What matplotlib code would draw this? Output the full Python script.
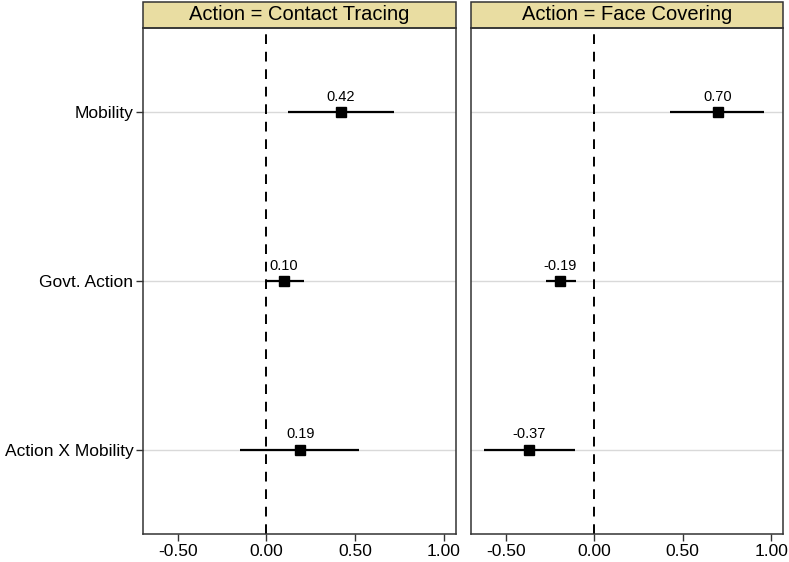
import matplotlib.pyplot as plt
from matplotlib.patches import Rectangle

plt.rcParams['font.family'] = ['Liberation Sans', 'DejaVu Sans']

# data
terms = ['Mobility', 'Govt. Action', 'Action X Mobility']
panels = ['Action = Contact Tracing', 'Action = Face Covering']
estimates = {
    'Action = Contact Tracing': [0.42, 0.10, 0.19],
    'Action = Face Covering': [0.70, -0.19, -0.37],
}
ci_low = {
    'Action = Contact Tracing': [0.12, 0.00, -0.15],
    'Action = Face Covering': [0.43, -0.27, -0.62],
}
ci_high = {
    'Action = Contact Tracing': [0.72, 0.21, 0.52],
    'Action = Face Covering': [0.96, -0.10, -0.11],
}
xticks = [-0.5, 0.0, 0.5, 1.0]

fig = plt.figure(figsize=(7.89, 5.62), dpi=100)
ax_pos = [[0.1813, 0.0498, 0.3967, 0.9004], [0.597, 0.0498, 0.3957, 0.9004]]
strip_color = '#E9DDA2'

for k, name in enumerate(panels):
    ax = fig.add_axes(ax_pos[k])
    ypos = list(range(len(terms)))
    for y in ypos:
        ax.axhline(y, color='#d9d9d9', lw=1, zorder=0)
    ax.axvline(0, color='black', lw=1.4, linestyle=(0, (5, 4)), zorder=1)
    est = estimates[name]
    lo = ci_low[name]
    hi = ci_high[name]
    ax.hlines(ypos, lo, hi, color='black', lw=1.6, zorder=2)
    ax.plot(est, ypos, 's', color='black', ms=7.5, zorder=3)
    for x, y in zip(est, ypos):
        ax.annotate(f'{x:.2f}', (x, y), xytext=(0, 6), textcoords='offset points',
                    ha='center', va='bottom', fontsize=10.5)

    ax.set_xlim(-0.695, 1.068)
    ax.set_ylim(2.5, -0.5)
    ax.set_xticks(xticks)
    ax.set_xticklabels([f'{t:.2f}' for t in xticks], fontsize=12.5)
    ax.set_yticks(ypos)
    ax.tick_params(axis='x', direction='out', length=5, width=1, color='#333333', pad=2)
    if k == 0:
        ax.set_yticklabels(terms, fontsize=12.5)
        ax.tick_params(axis='y', direction='out', length=5, width=1, color='#333333', pad=2)
    else:
        ax.set_yticklabels([])
        ax.tick_params(axis='y', length=0)
    for s in ax.spines.values():
        s.set_color('#333333')
        s.set_linewidth(1.1)

    # strip header
    h = 26 / 506
    ax.add_patch(Rectangle((0, 1), 1, h, transform=ax.transAxes, facecolor=strip_color,
                           edgecolor='#333333', lw=1.1, clip_on=False))
    ax.text(0.5, 1 + h / 2, name, transform=ax.transAxes, ha='center', va='center',
            fontsize=14.5)

fig.savefig('out.png', dpi=100)
